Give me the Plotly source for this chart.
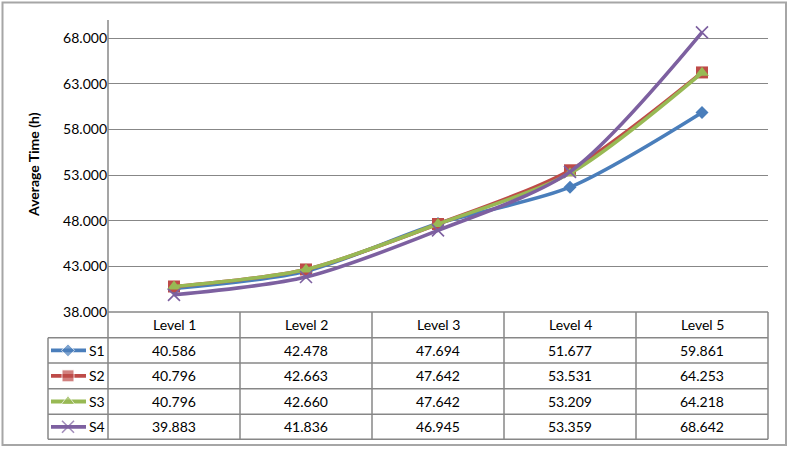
import plotly.graph_objects as go

categories = ["Level 1", "Level 2", "Level 3", "Level 4", "Level 5"]
series_names = ["S1", "S2", "S3", "S4"]
s1 = [40.586, 42.478, 47.694, 51.677, 59.861]
s2 = [40.796, 42.663, 47.642, 53.531, 64.253]
s3 = [40.796, 42.660, 47.642, 53.209, 64.218]
s4 = [39.883, 41.836, 46.945, 53.359, 68.642]
series_values = [s1, s2, s3, s4]
colors = ["#4A7EBB", "#BE4B48", "#98B954", "#7D60A0"]
symbols = ["diamond", "square", "triangle-up", "x-thin"]
msizes = [10, 12, 12, 12]
y_title = "Average Time (h)"

W, H = 789, 450
def px(x):
    return x / W
def py(y):
    return 1 - y / H

FONT = "Lato"
GRID = "#878787"

fig = go.Figure()

for name, vals, c, sym, ms in zip(series_names, series_values, colors, symbols, msizes):
    mk = dict(symbol=sym, size=ms, color=c)
    if sym == "x-thin":
        mk["line"] = dict(color=c, width=1.6)
    fig.add_trace(go.Scatter(
        x=categories, y=vals, name=name, mode="lines+markers",
        line=dict(color=c, width=3.6, shape="spline", smoothing=0.8),
        marker=mk, showlegend=False, xaxis="x", yaxis="y", cliponaxis=False,
    ))

# table geometry (pixels)
row_edges = [312, 337.7, 363, 388.7, 414.3, 439.3]
col_left, table_left, table_right = 108, 48, 768

# legend keys inside the table (own overlay axes in pixel units)
for i, (name, c, sym, ms) in enumerate(zip(series_names, colors, symbols, msizes)):
    yc = (row_edges[i + 1] + row_edges[i + 2]) / 2
    mk = dict(symbol=sym, size=[0, ms, 0], color=c)
    if sym == "x-thin":
        mk["line"] = dict(color=c, width=1.6)
    fig.add_trace(go.Scatter(
        x=[51, 68, 86], y=[yc, yc, yc], mode="lines+markers",
        line=dict(color=c, width=3.8), marker=mk, showlegend=False,
        hoverinfo="skip", xaxis="x2", yaxis="y2", cliponaxis=False,
    ))

shapes = []
# outer chart border
shapes.append(dict(type="rect", xref="paper", yref="paper",
                   x0=px(2.5), x1=px(786), y0=py(445), y1=py(2.5),
                   line=dict(color="#A6A6A6", width=2)))
# table horizontal lines
for k, y in enumerate(row_edges):
    x0 = col_left if k == 0 else table_left
    shapes.append(dict(type="line", xref="paper", yref="paper",
                       x0=px(x0), x1=px(table_right), y0=py(y), y1=py(y),
                       line=dict(color=GRID, width=1.5)))
# table vertical lines
shapes.append(dict(type="line", xref="paper", yref="paper",
                   x0=px(table_left), x1=px(table_left),
                   y0=py(row_edges[1]), y1=py(row_edges[-1]),
                   line=dict(color=GRID, width=1.5)))
for j in range(len(categories) + 1):
    x = col_left + 132 * j
    shapes.append(dict(type="line", xref="paper", yref="paper",
                       x0=px(x), x1=px(x),
                       y0=py(row_edges[0]), y1=py(row_edges[-1]),
                       line=dict(color=GRID, width=1.5)))
# y axis line
shapes.append(dict(type="line", xref="paper", yref="paper",
                   x0=px(col_left), x1=px(col_left), y0=py(20), y1=py(312),
                   line=dict(color=GRID, width=1.5)))

annotations = []
tfont = dict(family=FONT, size=14, color="#000000")
for j, cat in enumerate(categories):
    annotations.append(dict(x=cat, xref="x", y=py((row_edges[0] + row_edges[1]) / 2),
                            yref="paper", text=cat, showarrow=False, font=tfont,
                            xanchor="center", yanchor="middle"))
for i, (name, vals) in enumerate(zip(series_names, series_values)):
    yc = py((row_edges[i + 1] + row_edges[i + 2]) / 2)
    annotations.append(dict(x=px(87), xref="paper", y=yc, yref="paper", text=name,
                            showarrow=False, font=tfont, xanchor="left", yanchor="middle"))
    for cat, v in zip(categories, vals):
        annotations.append(dict(x=cat, xref="x", y=yc, yref="paper", text=f"{v:.3f}",
                                showarrow=False, font=tfont, xanchor="center",
                                yanchor="middle"))
annotations.append(dict(x=px(33), xref="paper", y=py(165), yref="paper",
                        text=f"<b>{y_title}</b>", textangle=-90, showarrow=False,
                        font=dict(family=FONT, size=14, color="#000000"),
                        xanchor="center", yanchor="middle"))

fig.update_layout(
    width=W, height=H, template="none",
    margin=dict(l=0, r=0, t=0, b=0, pad=0),
    paper_bgcolor="white", plot_bgcolor="rgba(0,0,0,0)",
    xaxis=dict(domain=[px(col_left), px(table_right)], range=[-0.5, 4.5],
               showticklabels=False, showgrid=False, zeroline=False, showline=False,
               ticks="", automargin=False, fixedrange=True),
    yaxis=dict(domain=[py(312), py(20)], range=[38, 70], tick0=38, dtick=5,
               tickformat=".3f", showgrid=True, gridcolor=GRID, gridwidth=1.3,
               zeroline=False, showline=False, ticks="", ticklen=0,
               tickfont=dict(family=FONT, size=14, color="#000000"),
               automargin=False, fixedrange=True),
    xaxis2=dict(domain=[0, 1], range=[0, W], visible=False, anchor="y2",
                fixedrange=True),
    yaxis2=dict(domain=[0, 1], range=[H, 0], visible=False, anchor="x2",
                fixedrange=True),
    shapes=shapes, annotations=annotations, showlegend=False,
)

fig.write_html("out.html", config={"displayModeBar": False},
               post_script="document.body.style.margin='0';document.body.style.padding='0';")
